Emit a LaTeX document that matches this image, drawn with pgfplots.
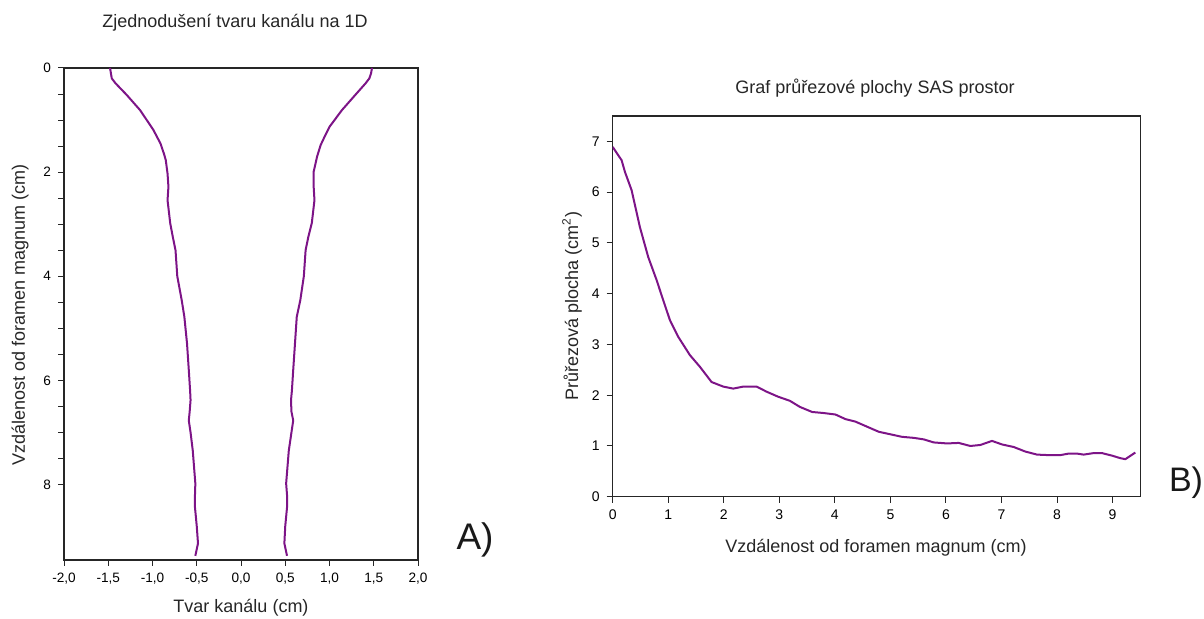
\documentclass[border=0pt]{standalone}
\usepackage{pgfplots}
\pgfplotsset{compat=1.18}
\usepackage{fontspec}
\setmainfont{Liberation Sans}
\definecolor{curve}{RGB}{125,20,135}
\begin{document}
\begin{tikzpicture}
\path[use as bounding box] (0,0) rectangle (602pt,309.5pt);
% ---------- Panel A ----------
\begin{axis}[
  at={(120.5pt,152.5pt)}, anchor=center,
  scale only axis, width=177pt, height=246pt,
  xmin=-2, xmax=2, ymin=0, ymax=9.45,
  y dir=reverse,
  xtick={-2,-1.5,...,2}, ytick={0,2,4,6,8},
  minor y tick num=3,
  tick align=outside, xtick pos=bottom, ytick pos=left,
  major tick length=3pt, minor tick length=3pt,
  axis line style={black!85, line width=0.6pt},
  every tick/.style={black!85, line width=0.5pt},
  /pgf/number format/assume math mode=true,
  xticklabel style={font=\fontsize{6.8}{7}\selectfont, /pgf/number format/.cd, fixed, fixed zerofill, precision=1, use comma},
  yticklabel style={font=\fontsize{6.8}{7}\selectfont},
]
\addplot[curve, line width=1pt] coordinates {
(1.48,0) (1.47,0.1) (1.45,0.2) (1.41,0.29) (1.29,0.52) (1.14,0.81) (1.0,1.13)
(0.95,1.30) (0.90,1.48) (0.86,1.70) (0.84,1.85) (0.82,2.0) (0.82,2.25) (0.83,2.54) (0.80,2.98)
(0.76,3.25) (0.73,3.5) (0.72,3.75) (0.71,4.0) (0.67,4.46) (0.63,4.78) (0.61,5.29)
(0.59,5.8) (0.575,6.2) (0.565,6.38) (0.57,6.6) (0.59,6.77) (0.57,7.0) (0.54,7.35)
(0.51,7.98) (0.52,8.2) (0.52,8.44) (0.50,8.8) (0.49,9.13) (0.52,9.37)
};
\addplot[curve, line width=1pt] coordinates {
(-1.48,0) (-1.47,0.1) (-1.46,0.2) (-1.42,0.29) (-1.29,0.52) (-1.14,0.81) (-0.99,1.19)
(-0.91,1.45) (-0.87,1.65) (-0.85,1.77) (-0.83,2.03) (-0.82,2.28) (-0.83,2.54) (-0.80,2.98)
(-0.77,3.25) (-0.74,3.5) (-0.73,3.75) (-0.72,4.0) (-0.67,4.46) (-0.64,4.78) (-0.61,5.29)
(-0.59,5.8) (-0.575,6.2) (-0.57,6.38) (-0.58,6.6) (-0.59,6.77) (-0.57,7.0) (-0.545,7.35)
(-0.516,7.98) (-0.52,8.2) (-0.52,8.44) (-0.50,8.8) (-0.486,9.13) (-0.516,9.37)
};
\end{axis}
% ---------- Panel B ----------
\begin{axis}[
  at={(438.25pt,156.3pt)}, anchor=center,
  scale only axis, width=263.8pt, height=190.35pt,
  xmin=0, xmax=9.5, ymin=0, ymax=7.5,
  xtick={0,...,9}, ytick={0,...,7},
  tick align=outside, xtick pos=bottom, ytick pos=left,
  major tick length=3pt,
  axis line style={black!85, line width=0.6pt},
  every tick/.style={black!85, line width=0.5pt},
  /pgf/number format/assume math mode=true,
  xticklabel style={font=\fontsize{7}{8}\selectfont},
  yticklabel style={font=\fontsize{7}{8}\selectfont},
]
\addplot[curve, line width=1pt] coordinates {
(0,6.89) (0.08,6.76) (0.16,6.63) (0.22,6.40) (0.34,6.04) (0.49,5.31) (0.64,4.72) (0.79,4.27)
(0.91,3.87) (1.03,3.48) (1.18,3.15) (1.39,2.79) (1.57,2.56) (1.78,2.26) (1.99,2.17)
(2.17,2.13) (2.35,2.17) (2.59,2.17) (2.77,2.07) (2.98,1.97) (3.19,1.89) (3.37,1.77)
(3.59,1.67) (3.79,1.65) (4.01,1.62) (4.19,1.53) (4.37,1.48) (4.58,1.38) (4.79,1.28)
(5.0,1.23) (5.21,1.18) (5.42,1.16) (5.60,1.13) (5.78,1.07) (6.02,1.05) (6.23,1.06)
(6.44,1.0) (6.62,1.02) (6.83,1.10) (7.01,1.03) (7.22,0.98) (7.43,0.89) (7.64,0.83)
(7.85,0.82) (8.06,0.82) (8.21,0.85) (8.36,0.85) (8.48,0.83) (8.66,0.86) (8.81,0.86)
(8.99,0.81) (9.14,0.76) (9.23,0.74) (9.41,0.87)
};
\end{axis}
% ---------- Texts ----------
\node[font=\fontsize{9}{10}\selectfont, text=black!85] at (117.5pt,298pt) {Zjednodušení tvaru kanálu na 1D};
\node[font=\fontsize{9}{10}\selectfont, text=black!85, rotate=90] at (10pt,152pt) {Vzdálenost od foramen magnum (cm)};
\node[font=\fontsize{9}{10}\selectfont, text=black!85] at (120.5pt,5.5pt) {Tvar kanálu (cm)};
\node[font=\fontsize{18.5}{20}\selectfont, text=black!90] at (237.5pt,39.5pt) {A)};
\node[font=\fontsize{9}{10}\selectfont, text=black!85] at (437.5pt,265.5pt) {Graf průřezové plochy SAS prostor};
\node[font=\fontsize{9}{10}\selectfont, text=black!85, rotate=90] at (286pt,156.5pt) {Průřezová plocha (cm\textsuperscript{2})};
\node[font=\fontsize{9}{10}\selectfont, text=black!85] at (438pt,35.5pt) {Vzdálenost od foramen magnum (cm)};
\node[font=\fontsize{17}{18}\selectfont, text=black!90] at (593pt,68pt) {B)};
\end{tikzpicture}
\end{document}
